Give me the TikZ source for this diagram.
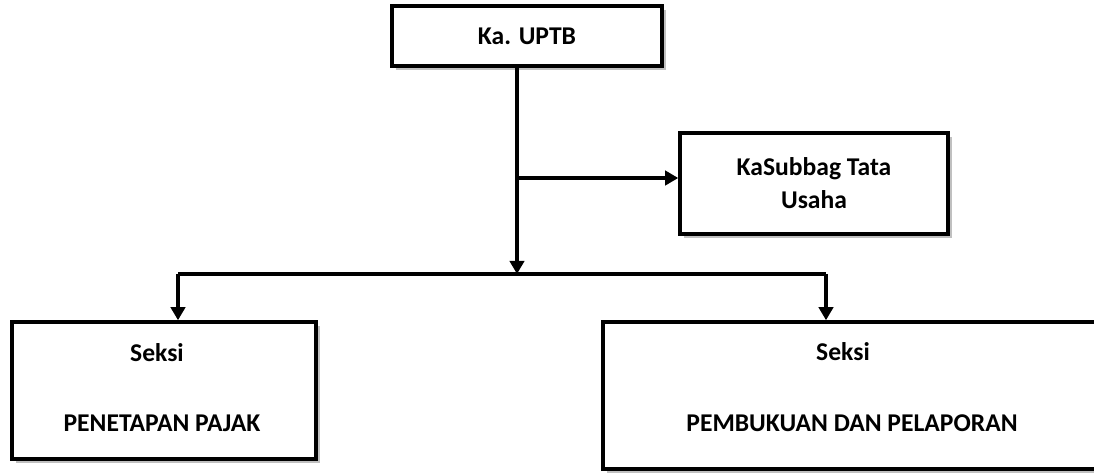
\documentclass[tikz,border=0pt]{standalone}
\usepackage{fontspec}
\setmainfont{Carlito}
\usetikzlibrary{shadows, arrows.meta, calc}

\begin{document}
\begin{tikzpicture}[x=0.025cm, y=-0.025cm,
	unitbox/.style={draw, line width=2.5pt, fill=white, inner sep=0pt, align=center,
		font=\fontsize{18.2}{23.4}\selectfont\bfseries,
		drop shadow={shadow xshift=0.1cm, shadow yshift=-0.1cm, fill=shadowgray, opacity=1}},
	unittext/.style={font=\fontsize{18.2}{23.4}\selectfont\bfseries, inner sep=0pt},
	link/.style={line width=2.5pt},
	arr/.style={link, -{Triangle[length=0.33cm, width=0.36cm]}}]
	\definecolor{shadowgray}{RGB}{192,192,192}

	\useasboundingbox (0,0) rectangle (1094,475);

	\node[unitbox, minimum width=270*0.025cm, minimum height=60*0.025cm] (uptb) at (527,36) {Ka. UPTB};
	\node[unitbox, minimum width=268*0.025cm, minimum height=101*0.025cm] (tu) at (814,183.5) {KaSubbag Tata\\Usaha};
	\node[unitbox, minimum width=304*0.025cm, minimum height=137*0.025cm] (penetapan) at (164,390.5) {};
	\node[unitbox, minimum width=510*0.025cm, minimum height=147*0.025cm] (pembukuan) at (858,395.5) {};

	\node[unittext] (penetapanA) at (157,353) {Seksi};
	\node[unittext] (penetapanB) at (162,423) {PENETAPAN PAJAK};
	\node[unittext] (pembukuanA) at (843,352) {Seksi};
	\node[unittext] (pembukuanB) at (852,423) {PEMBUKUAN DAN PELAPORAN};

	% connectors
	\coordinate (trunk) at (517,274);
	\coordinate (branch) at (517,178);
	\coordinate (leftend) at (178,274);
	\coordinate (rightend) at (826,274);

	\draw[arr] (uptb.south -| trunk) -- (trunk);
	\draw[arr] (branch) -- (branch -| tu.west);
	\draw[link] (leftend) -- (rightend);
	\draw[arr] (leftend) -- (leftend |- penetapan.north);
	\draw[arr] (rightend) -- (rightend |- pembukuan.north);
\end{tikzpicture}
\end{document}
